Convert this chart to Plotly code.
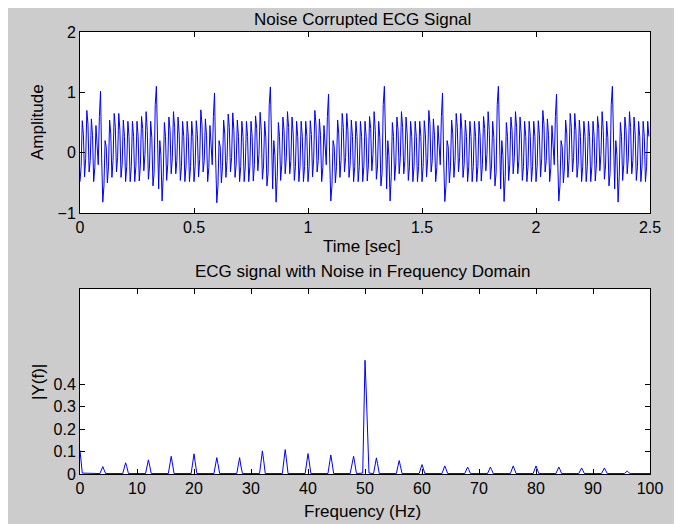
import plotly.graph_objects as go

# ---------------- data ----------------
sample_rate = 200  # samples per second (time axis 0 .. 2.5 s)

# amplitude samples, one list per 0.5 s stretch of the noisy ECG
seg_0_05 = [-0.48,-0.23,0.53,0.30,-0.40,-0.10,0.70,0.47,-0.32,-0.13,
            0.56,0.28,-0.48,-0.25,0.45,0.17,-0.20,0.60,1.02,-0.10,
            -0.82,-0.55,0.20,0.10,-0.50,-0.23,0.54,0.31,-0.41,-0.13,
            0.65,0.42,-0.32,-0.08,0.65,0.37,-0.41,-0.19,0.54,0.27,
            -0.48,-0.23,0.52,0.27,-0.48,-0.23,0.52,0.27,-0.48,-0.23,
            0.52,0.27,-0.47,-0.20,0.60,0.40,-0.30,-0.03,0.68,0.37,
            -0.44,-0.22,0.52,0.25,-0.55,-0.33,0.80,1.10,0.05,-0.60,
            0.20,-0.05,-0.80,-0.40,0.50,0.27,-0.46,-0.19,0.59,0.37,
            -0.35,-0.08,0.68,0.42,-0.35,-0.13,0.59,0.31,-0.46,-0.23,
            0.52,0.27,-0.48,-0.23,0.52,0.27,-0.48,-0.23,0.52,0.27]
seg_05_10 = [-0.48,-0.23,0.53,0.30,-0.40,-0.11,0.71,0.47,-0.32,-0.13,
             0.56,0.28,-0.48,-0.25,0.45,0.17,-0.20,0.60,0.99,-0.10,
             -0.83,-0.55,0.20,0.10,-0.50,-0.23,0.54,0.31,-0.41,-0.13,
             0.64,0.42,-0.32,-0.08,0.66,0.37,-0.41,-0.19,0.54,0.27,
             -0.48,-0.23,0.52,0.27,-0.48,-0.23,0.52,0.27,-0.48,-0.23,
             0.52,0.27,-0.47,-0.20,0.61,0.40,-0.30,-0.03,0.67,0.37,
             -0.44,-0.22,0.52,0.25,-0.55,-0.33,0.80,1.09,0.05,-0.60,
             0.20,-0.05,-0.82,-0.40,0.50,0.27,-0.46,-0.19,0.59,0.37,
             -0.35,-0.08,0.68,0.42,-0.35,-0.13,0.59,0.31,-0.46,-0.23,
             0.52,0.27,-0.48,-0.23,0.52,0.27,-0.48,-0.23,0.52,0.27]
seg_10_15 = [-0.48,-0.23,0.53,0.30,-0.40,-0.10,0.70,0.47,-0.32,-0.13,
             0.56,0.28,-0.48,-0.25,0.45,0.17,-0.20,0.60,0.97,-0.10,
             -0.80,-0.55,0.20,0.10,-0.50,-0.23,0.54,0.31,-0.41,-0.13,
             0.65,0.42,-0.32,-0.08,0.65,0.37,-0.41,-0.19,0.54,0.27,
             -0.48,-0.23,0.52,0.27,-0.48,-0.23,0.52,0.27,-0.48,-0.23,
             0.52,0.27,-0.47,-0.20,0.60,0.40,-0.30,-0.03,0.68,0.37,
             -0.44,-0.22,0.52,0.25,-0.55,-0.33,0.80,1.10,0.05,-0.60,
             0.20,-0.05,-0.80,-0.40,0.50,0.27,-0.46,-0.19,0.59,0.37,
             -0.35,-0.08,0.68,0.42,-0.35,-0.13,0.59,0.31,-0.46,-0.23,
             0.52,0.27,-0.48,-0.23,0.52,0.27,-0.48,-0.23,0.52,0.27]
seg_15_20 = [-0.48,-0.23,0.53,0.30,-0.40,-0.10,0.70,0.47,-0.32,-0.13,
             0.56,0.28,-0.48,-0.25,0.45,0.17,-0.20,0.60,0.99,-0.10,
             -0.81,-0.55,0.20,0.10,-0.50,-0.23,0.54,0.31,-0.41,-0.13,
             0.65,0.42,-0.32,-0.08,0.65,0.37,-0.41,-0.19,0.54,0.27,
             -0.48,-0.23,0.52,0.27,-0.48,-0.23,0.52,0.27,-0.48,-0.23,
             0.52,0.27,-0.47,-0.20,0.60,0.40,-0.30,-0.03,0.68,0.37,
             -0.44,-0.22,0.52,0.25,-0.55,-0.33,0.80,1.10,0.05,-0.60,
             0.20,-0.05,-0.81,-0.40,0.50,0.27,-0.46,-0.19,0.59,0.37,
             -0.35,-0.08,0.68,0.42,-0.35,-0.13,0.59,0.31,-0.46,-0.23,
             0.52,0.27,-0.48,-0.23,0.52,0.27,-0.48,-0.23,0.52,0.27]
seg_20_25 = [-0.48,-0.23,0.53,0.30,-0.40,-0.10,0.70,0.47,-0.32,-0.13,
             0.56,0.28,-0.48,-0.25,0.45,0.17,-0.20,0.60,0.97,-0.10,
             -0.80,-0.55,0.20,0.10,-0.50,-0.23,0.54,0.31,-0.41,-0.13,
             0.65,0.42,-0.32,-0.08,0.65,0.37,-0.41,-0.19,0.54,0.27,
             -0.48,-0.23,0.52,0.27,-0.48,-0.23,0.52,0.27,-0.48,-0.23,
             0.52,0.27,-0.47,-0.20,0.60,0.40,-0.30,-0.03,0.68,0.37,
             -0.44,-0.22,0.52,0.25,-0.55,-0.33,0.80,1.10,0.05,-0.60,
             0.20,-0.05,-0.82,-0.40,0.50,0.27,-0.46,-0.19,0.59,0.37,
             -0.35,-0.08,0.68,0.42,-0.35,-0.13,0.59,0.31,-0.46,-0.23,
             0.52,0.27,-0.48,-0.23,0.52,0.27,-0.48,-0.23,0.52,0.27]
amplitude = seg_0_05 + seg_05_10 + seg_10_15 + seg_15_20 + seg_20_25

# single-sided spectrum |Y(f)|
spec_freq = [0, 0.2, 0.4,
             3.5, 3.8, 4.0, 4.2, 4.5,
             7.5, 7.8, 8.0, 8.2, 8.5,
             11.5, 11.8, 12.0, 12.2, 12.5,
             15.5, 15.8, 16.0, 16.2, 16.5,
             19.5, 19.8, 20.0, 20.2, 20.5,
             23.5, 23.8, 24.0, 24.2, 24.5,
             27.5, 27.8, 28.0, 28.2, 28.5,
             31.5, 31.8, 32.0, 32.2, 32.5,
             35.5, 35.8, 36.0, 36.2, 36.5,
             39.5, 39.8, 40.0, 40.2, 40.5,
             43.5, 43.8, 44.0, 44.2, 44.5,
             47.4, 47.7, 48.0, 48.2, 48.5,
             49.6, 49.8, 50.0, 50.2, 50.45, 50.7,
             51.5, 51.8, 52.0, 52.2, 52.5,
             55.5, 55.8, 56.0, 56.2, 56.5,
             59.5, 59.8, 60.0, 60.2, 60.5,
             63.5, 63.8, 64.0, 64.2, 64.5,
             67.5, 67.8, 68.0, 68.2, 68.5,
             71.5, 71.8, 72.0, 72.2, 72.5,
             75.5, 75.8, 76.0, 76.2, 76.5,
             79.5, 79.8, 80.0, 80.2, 80.5,
             83.5, 83.8, 84.0, 84.2, 84.5,
             87.5, 87.8, 88.0, 88.2, 88.5,
             91.5, 91.8, 92.0, 92.2, 92.5,
             95.5, 95.8, 96.0, 96.2, 96.5,
             100]
spec_mag = [0.105, 0.055, 0.004,
            0.002, 0.018, 0.033, 0.020, 0.002,
            0.002, 0.030, 0.050, 0.034, 0.002,
            0.002, 0.036, 0.063, 0.040, 0.002,
            0.002, 0.045, 0.079, 0.050, 0.002,
            0.002, 0.060, 0.090, 0.055, 0.002,
            0.002, 0.042, 0.073, 0.046, 0.002,
            0.002, 0.050, 0.073, 0.040, 0.002,
            0.002, 0.060, 0.103, 0.066, 0.002,
            0.002, 0.065, 0.109, 0.070, 0.002,
            0.002, 0.055, 0.091, 0.058, 0.002,
            0.002, 0.050, 0.085, 0.054, 0.002,
            0.002, 0.045, 0.079, 0.050, 0.002,
            0.004, 0.260, 0.507, 0.380, 0.130, 0.004,
            0.002, 0.045, 0.072, 0.046, 0.002,
            0.002, 0.036, 0.060, 0.038, 0.002,
            0.002, 0.025, 0.042, 0.027, 0.002,
            0.002, 0.021, 0.036, 0.023, 0.002,
            0.002, 0.018, 0.031, 0.020, 0.002,
            0.002, 0.018, 0.031, 0.020, 0.002,
            0.002, 0.021, 0.036, 0.023, 0.002,
            0.002, 0.021, 0.036, 0.023, 0.002,
            0.002, 0.018, 0.031, 0.020, 0.002,
            0.002, 0.016, 0.027, 0.017, 0.002,
            0.002, 0.016, 0.027, 0.017, 0.002,
            0.002, 0.008, 0.013, 0.008, 0.002,
            0.002]

time_ticks = [0, 0.5, 1, 1.5, 2, 2.5]
time_ticklabels = ["0", "0.5", "1", "1.5", "2", "2.5"]
amp_ticks = [-1, 0, 1, 2]
freq_ticks = [0, 10, 20, 30, 40, 50, 60, 70, 80, 90, 100]
mag_ticks = [0, 0.1, 0.2, 0.3, 0.4]

# ---------------- figure ----------------
OFF = 8            # page body margin
W, H = 667, 516    # figure size (page area 8..675 x 8..524)
FONT = "Liberation Sans, Arial, sans-serif"

def px_x(x):
    return (x - OFF) / W

def px_y(y):
    return 1 - (y - OFF) / H

fig = go.Figure()
fig.add_trace(go.Scatter(y=amplitude, x0=0, dx=1 / sample_rate, mode="lines",
                         line=dict(color="#0000ff", width=1),
                         xaxis="x", yaxis="y", showlegend=False))
fig.add_trace(go.Scatter(x=spec_freq, y=spec_mag, mode="lines",
                         line=dict(color="#0000ff", width=1),
                         xaxis="x2", yaxis="y2", showlegend=False))

axis_common = dict(showline=True, linecolor="black", linewidth=1, mirror="allticks",
                   ticks="inside", ticklen=5, tickcolor="black", showgrid=False,
                   zeroline=False, automargin=False,
                   tickfont=dict(family=FONT, size=16, color="black"))

top_axes_px = (32, 213)
bot_axes_px = (289, 474)
x_dom = [px_x(80), px_x(650)]

fig.update_layout(
    template="none",
    width=W, height=H,
    margin=dict(l=0, r=0, t=0, b=0, pad=0, autoexpand=False),
    paper_bgcolor="#cccccc", plot_bgcolor="white",
    xaxis=dict(domain=x_dom, range=[0, 2.5], tickvals=time_ticks, ticktext=time_ticklabels,
               anchor="y", **axis_common),
    yaxis=dict(domain=[px_y(top_axes_px[1]), px_y(top_axes_px[0])], range=[-1, 2],
               tickvals=amp_ticks, anchor="x", **axis_common),
    xaxis2=dict(domain=x_dom, range=[0, 100], tickvals=freq_ticks, anchor="y2", **axis_common),
    yaxis2=dict(domain=[px_y(bot_axes_px[1]), px_y(bot_axes_px[0])], range=[0, 0.825],
                tickvals=mag_ticks, anchor="x2", **axis_common),
)

def label(text, x, y, angle=0, yanchor="middle"):
    fig.add_annotation(text=text, x=px_x(x), y=px_y(y), xref="paper", yref="paper",
                       showarrow=False, textangle=angle, xanchor="center", yanchor=yanchor,
                       font=dict(family=FONT, size=17, color="black"))

label("Noise Corrupted ECG Signal", 362, 8, yanchor="top")
label("Time [sec]", 362, 247)
label("Amplitude", 38, 122, -90)
label("ECG signal with Noise in Frequency Domain", 362, 271)
label("Frequency (Hz)", 362, 511)
label("|Y(f)|", 38, 382, -90)

fig.write_html("out.html")
